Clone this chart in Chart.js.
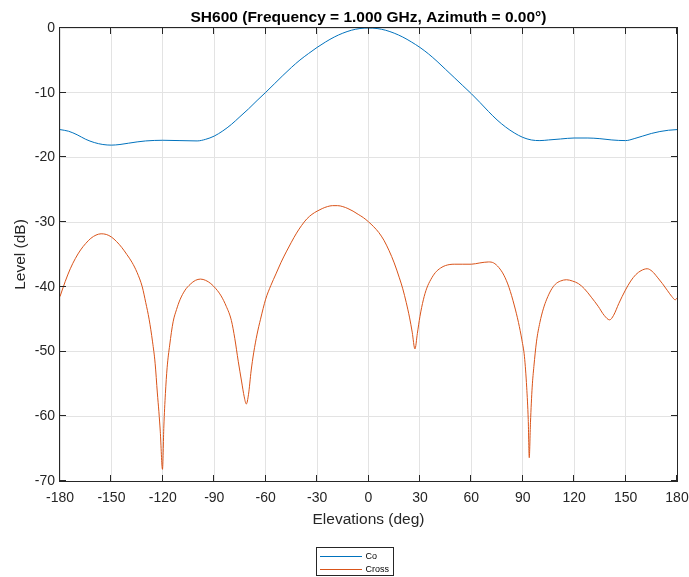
<!DOCTYPE html>
<html>
<head>
<meta charset="utf-8">
<title>SH600 elevation pattern</title>
<script src="https://cdn.jsdelivr.net/npm/chart.js@4.4.1/dist/chart.umd.min.js"></script>
<style>
  html, body { margin: 0; padding: 0; background: #ffffff; }
  #wrap { width: 689px; height: 577px; }
</style>
</head>
<body>
<div id="wrap"><canvas id="pattern" width="689" height="577"></canvas></div>
<script>
// Elevation cut of the SH600 antenna pattern at 1 GHz, azimuth 0°
const chartTitle = 'SH600 (Frequency = 1.000 GHz, Azimuth = 0.00°)';
const xAxisTitle = 'Elevations (deg)';
const yAxisTitle = 'Level (dB)';
const seriesNames = ['Co', 'Cross'];

const xTicks = [-180, -150, -120, -90, -60, -30, 0, 30, 60, 90, 120, 150, 180];
const yTicks = [0, -10, -20, -30, -40, -50, -60, -70];

// Co-polar level (dB) vs elevation (deg)
const coAngles = [-180, -175, -170, -165, -160, -155, -150, -145, -140, -135, -130, -120, -110, -100, -95, -90, -85, -80, -75, -70,
                  -65, -60, -55, -50, -45, -40, -35, -30, -25, -20, -15, -10, -5, 0,
                  5, 10, 15, 20, 25, 30, 35, 40, 45, 50, 55, 60, 65, 70, 75, 80, 85, 90, 95, 100,
                  105, 112, 120, 128, 135, 142, 150, 155, 160, 165, 170, 175, 180];
const coLevels = [-15.7, -15.95, -16.5, -17.2, -17.7, -18.0, -18.1, -18.0, -17.8, -17.6, -17.45, -17.35, -17.4, -17.45, -17.2, -16.7, -15.9, -14.9, -13.7, -12.5,
                  -11.2, -9.95, -8.65, -7.35, -6.1, -4.95, -3.95, -3.0, -2.15, -1.4, -0.8, -0.35, -0.08, 0,
                  -0.08, -0.35, -0.8, -1.4, -2.15, -3.0, -4.0, -5.15, -6.4, -7.65, -8.9, -10.15, -11.5, -12.9, -14.2, -15.3, -16.2, -16.9, -17.3, -17.4,
                  -17.3, -17.15, -17.0, -17.0, -17.1, -17.3, -17.4, -17.1, -16.7, -16.3, -16.0, -15.8, -15.7];

// Cross-polar level (dB) vs elevation (deg)
const crossAngles = [-180, -177, -174, -171, -168, -165, -162, -159, -156, -153, -150, -147, -144, -141, -138, -135, -132, -130, -128, -126,
                     -124.5, -123.2, -122.3, -121.5, -120.2, -119.4, -118.5, -117.5, -116, -114, -112, -110, -107, -104, -101, -98, -95, -92,
                     -89, -86, -83, -80, -78, -76, -74, -72.5, -71.3, -70, -68.5, -67, -65, -63, -60, -57, -54, -51, -48, -45, -42, -39,
                     -36, -33, -30, -27, -24, -21, -18, -15, -12, -9, -6, -3, 0,
                     3, 6, 9, 12, 15, 18, 20, 22, 24, 25.5, 27.1, 28.5, 30, 32, 34, 36.3, 39, 42, 45, 50, 55, 60, 65, 70, 73, 76, 79,
                     82, 85, 87.5, 89.5, 91, 92.3, 93.2, 93.8, 94.5, 95.5, 96.5, 98, 100, 102, 104, 106.5, 109, 112, 115.5, 119, 122.5,
                     126, 130, 134, 137.5, 140.7, 143, 146, 149.9, 153, 156, 159, 162.6, 165.5, 168.5, 171.5, 174.5, 177, 179, 180];
const crossLevels = [-41.5, -39.2, -37.2, -35.6, -34.3, -33.3, -32.5, -32.0, -31.8, -31.9, -32.3, -33.0, -33.9, -35.0, -36.2, -37.8, -40.0, -42.4, -45.0, -48.5,
                     -51.8, -56.4, -59.3, -62.3, -68.2, -61.5, -56.5, -52.5, -49.0, -45.4, -43.5, -42.0, -40.5, -39.6, -39.0, -38.8, -39.0, -39.5,
                     -40.3, -41.4, -43.0, -45.2, -48.0, -51.5, -54.7, -57.0, -58.1, -56.6, -53.0, -50.2, -47.3, -45.0, -41.9, -39.8, -38.0, -36.2, -34.6, -33.1, -31.7, -30.5,
                     -29.5, -28.8, -28.3, -27.9, -27.6, -27.45, -27.45, -27.6, -27.9, -28.3, -28.8, -29.3, -29.95,
                     -30.7, -31.6, -32.8, -34.4, -36.3, -38.6, -40.3, -42.4, -44.8, -47.0, -49.6, -47.2, -44.6, -42.0, -40.2, -38.9, -37.8, -37.1, -36.7, -36.5, -36.5, -36.5, -36.3, -36.15, -36.3, -37.0, -38.2,
                     -40.1, -42.8, -45.5, -48.2, -50.8, -55.5, -60.5, -66.4, -61.0, -55.5, -52.3, -48.5, -45.5, -43.4, -41.9, -40.5, -39.6, -39.1, -38.9, -39.1, -39.5,
                     -40.3, -41.6, -43.0, -44.4, -45.1, -44.4, -42.6, -40.5, -39.1, -38.1, -37.5, -37.2, -37.6, -38.5, -39.5, -40.6, -41.5, -42.0, -41.7];

const seriesColors = ['#0072BD', '#D95319'];
const inkColor = '#262626';
const gridColor = '#e3e3e3';
const fontFamily = '"Liberation Sans", Arial, Helvetica, sans-serif';

const toPoints = (xs, ys) => xs.map((x, i) => ({ x: x, y: ys[i] }));

// Axes box, inward tick marks, title, axis titles and the boxed legend
const decorations = {
  id: 'decorations',
  afterDraw(chart) {
    const { ctx, chartArea: a, scales } = chart;
    const L = a.left, R = a.right, T = a.top, B = a.bottom;
    ctx.save();
    ctx.strokeStyle = inkColor;
    ctx.lineWidth = 1;
    ctx.strokeRect(L - 0.5, T - 0.5, R - L + 1, B - T + 1);

    const tick = 6;
    ctx.beginPath();
    xTicks.forEach(v => {
      const px = Math.round(scales.x.getPixelForValue(v)) - 0.5;
      ctx.moveTo(px, B); ctx.lineTo(px, B - tick);
      ctx.moveTo(px, T); ctx.lineTo(px, T + tick);
    });
    yTicks.forEach(v => {
      const py = Math.round(scales.y.getPixelForValue(v)) - 0.5;
      ctx.moveTo(L, py); ctx.lineTo(L + tick, py);
      ctx.moveTo(R, py); ctx.lineTo(R - tick, py);
    });
    ctx.stroke();

    const cx = (L + R) / 2;
    ctx.fillStyle = '#000000';
    ctx.textAlign = 'center';
    ctx.textBaseline = 'alphabetic';
    ctx.font = 'bold 15.5px ' + fontFamily;
    ctx.fillText(chartTitle, cx, 21.5);

    ctx.fillStyle = inkColor;
    ctx.font = '15.5px ' + fontFamily;
    ctx.textBaseline = 'middle';
    ctx.fillText(xAxisTitle, cx, 520);

    ctx.save();
    ctx.translate(21, (T + B) / 2);
    ctx.rotate(-Math.PI / 2);
    ctx.fillText(yAxisTitle, 0, 0);
    ctx.restore();

    // legend
    const bx = 316.5, by = 547.5, bw = 77, bh = 28;
    ctx.fillStyle = '#ffffff';
    ctx.fillRect(bx, by, bw, bh);
    ctx.strokeStyle = inkColor;
    ctx.lineWidth = 1;
    ctx.strokeRect(bx, by, bw, bh);
    ctx.font = '9px ' + fontFamily;
    ctx.textAlign = 'left';
    ctx.textBaseline = 'middle';
    chart.data.datasets.forEach((ds, i) => {
      const ly = Math.round(by + 8 + i * 13.5) + 0.5;
      ctx.strokeStyle = ds.borderColor;
      ctx.beginPath();
      ctx.moveTo(bx + 3.5, ly); ctx.lineTo(bx + 45.5, ly);
      ctx.stroke();
      ctx.fillStyle = '#000000';
      ctx.fillText(ds.label, bx + 49, ly);
    });
    ctx.restore();
  }
};

new Chart(document.getElementById('pattern'), {
  type: 'line',
  data: {
    datasets: [
      { label: seriesNames[0], data: toPoints(coAngles, coLevels), borderColor: seriesColors[0], borderWidth: 1,
        pointRadius: 0, fill: false, cubicInterpolationMode: 'monotone' },
      { label: seriesNames[1], data: toPoints(crossAngles, crossLevels), borderColor: seriesColors[1], borderWidth: 1,
        pointRadius: 0, fill: false, cubicInterpolationMode: 'monotone' }
    ]
  },
  options: {
    responsive: false,
    animation: false,
    devicePixelRatio: 1,
    layout: { padding: { top: 28, right: 12, bottom: 0, left: 0 } },
    plugins: { legend: { display: false }, title: { display: false }, tooltip: { enabled: false } },
    scales: {
      x: {
        type: 'linear', min: -180, max: 180,
        afterBuildTicks: s => { s.ticks = xTicks.map(v => ({ value: v })); },
        afterFit: s => { s.height = 96; s.paddingLeft = 0; s.paddingRight = 0; },
        ticks: { padding: 9, color: inkColor, font: { size: 14, family: fontFamily }, maxRotation: 0, autoSkip: false },
        grid: { color: gridColor, drawTicks: false, lineWidth: 1 },
        border: { display: false }
      },
      y: {
        type: 'linear', min: -70, max: 0,
        afterBuildTicks: s => { s.ticks = yTicks.map(v => ({ value: v })); },
        afterFit: s => { s.width = 60; s.paddingTop = 0; s.paddingBottom = 0; },
        ticks: { padding: 5, color: inkColor, font: { size: 14, family: fontFamily } },
        grid: { color: gridColor, drawTicks: false, lineWidth: 1 },
        border: { display: false }
      }
    }
  },
  plugins: [decorations]
});
</script>
</body>
</html>
